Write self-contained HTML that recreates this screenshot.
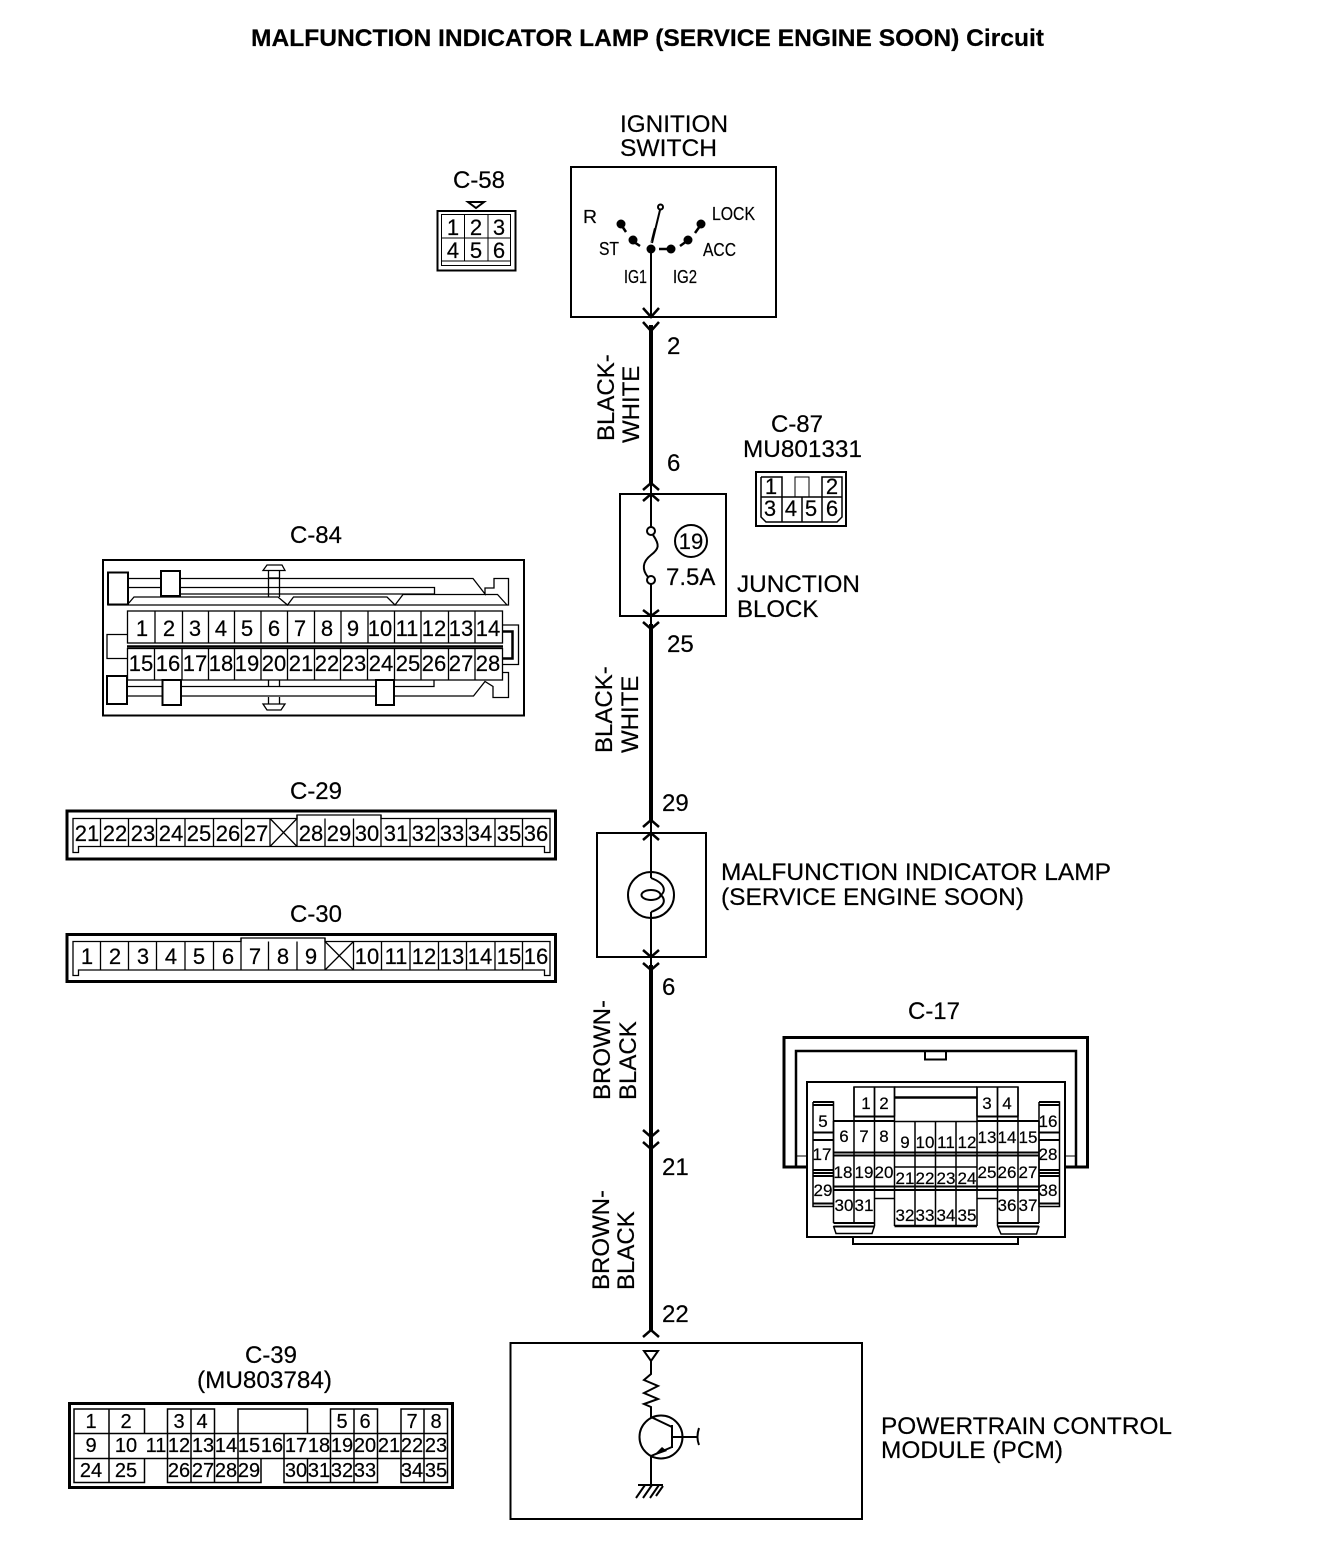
<!DOCTYPE html>
<html><head><meta charset="utf-8"><title>MIL Circuit</title>
<style>
html,body{margin:0;padding:0;background:#fff}
svg{display:block}
text{font-family:"Liberation Sans",sans-serif;fill:#000;stroke:#000;stroke-width:.2}
.l{font-size:24px}
.c{font-size:24px;text-anchor:middle}
.d{font-size:22px;text-anchor:middle}
.e{font-size:20px;text-anchor:middle}
.f{font-size:17px;text-anchor:middle}
.s{font-size:18px}
.n{fill:none;stroke:#000;stroke-width:2}
.t{fill:none;stroke:#000;stroke-width:1}
.h{fill:none;stroke:#000;stroke-width:3}
.w{fill:none;stroke:#000;stroke-width:4}
.v{fill:none;stroke:#000;stroke-width:2.500}
</style></head>
<body>
<svg xmlns="http://www.w3.org/2000/svg" width="1328" height="1554" viewBox="0 0 1328 1554">
<rect width="1328" height="1554" fill="#fff"/>
<text x="251" y="46" font-size="24" font-weight="bold" textLength="793" lengthAdjust="spacingAndGlyphs">MALFUNCTION INDICATOR LAMP (SERVICE ENGINE SOON) Circuit</text>

<!-- Ignition switch -->
<text class="l" x="620" y="132" textLength="108" lengthAdjust="spacingAndGlyphs">IGNITION</text>
<text class="l" x="620" y="156" textLength="97" lengthAdjust="spacingAndGlyphs">SWITCH</text>
<rect class="n" x="571" y="167" width="205" height="150"/>
<path class="n" d="M651 249V317"/>
<circle class="n" cx="660.500" cy="207" r="2.500"/>
<path class="n" d="M660 210L652 243"/>
<path d="M650 244L654 228L656 229Z"/>
<circle cx="651" cy="249" r="4.500"/>
<circle cx="621" cy="224" r="4.500"/><path class="v" d="M622 226L626 232"/>
<circle cx="633" cy="240" r="4.500"/><path class="v" d="M634 242L640 246"/>
<circle cx="671" cy="249" r="4.500"/><path class="v" d="M671 249H659"/>
<circle cx="688" cy="240" r="4.500"/><path class="v" d="M687 241L680 246"/>
<circle cx="701" cy="224" r="4.500"/><path class="v" d="M700 226L695 233"/>
<text class="s" x="583" y="223" textLength="14" lengthAdjust="spacingAndGlyphs">R</text>
<text class="s" x="712" y="220" textLength="43" lengthAdjust="spacingAndGlyphs">LOCK</text>
<text class="s" x="599" y="255" textLength="20" lengthAdjust="spacingAndGlyphs">ST</text>
<text class="s" x="703" y="256" textLength="33" lengthAdjust="spacingAndGlyphs">ACC</text>
<text class="s" x="624" y="283" textLength="23" lengthAdjust="spacingAndGlyphs">IG1</text>
<text class="s" x="673" y="283" textLength="24" lengthAdjust="spacingAndGlyphs">IG2</text>

<!-- C-58 -->
<text class="c" x="479" y="188">C-58</text>
<path class="n" d="M468 202H484L476 208Z"/>
<rect class="n" x="437.500" y="211" width="78" height="59.500"/>
<rect class="t" x="441.500" y="214.500" width="69" height="51"/>
<path class="t" d="M441 261H511M441 238H511M464.500 214V261M488 214V261"/>
<text class="d" x="453" y="235">1</text><text class="d" x="476" y="235">2</text><text class="d" x="499" y="235">3</text>
<text class="d" x="453" y="258">4</text><text class="d" x="476" y="258">5</text><text class="d" x="499" y="258">6</text>

<!-- Main wire -->
<path class="w" d="M651 325V484M651 624V821M651 965V1331"/>
<path class="v" d="M643 308L651 317L659 308M643 322L651 331L659 322"/>
<path class="v" d="M643 490L651 483L659 490M643 501L651 494L659 501"/>
<path class="v" d="M643 610L651 616L659 610M643 622L651 629L659 622"/>
<path class="v" d="M643 827L651 820L659 827M643 840L651 833L659 840"/>
<path class="v" d="M643 950L651 957L659 950M643 963L651 970L659 963"/>
<path class="v" d="M643 1130L651 1137L659 1130M643 1142L651 1149L659 1142"/>
<path class="v" d="M643 1337L651 1330L659 1337"/>

<!-- wire numbers -->
<text class="l" x="667" y="354">2</text>
<text class="l" x="667" y="471">6</text>
<text class="l" x="667" y="652">25</text>
<text class="l" x="662" y="811">29</text>
<text class="l" x="662" y="995">6</text>
<text class="l" x="662" y="1175">21</text>
<text class="l" x="662" y="1322">22</text>

<!-- wire colours -->
<text class="l" transform="translate(614 441) rotate(-90)">BLACK-</text>
<text class="l" transform="translate(639 443) rotate(-90)">WHITE</text>
<text class="l" transform="translate(612 753) rotate(-90)">BLACK-</text>
<text class="l" transform="translate(638 753) rotate(-90)">WHITE</text>
<text class="l" transform="translate(610 1100) rotate(-90)">BROWN-</text>
<text class="l" transform="translate(636 1100) rotate(-90)">BLACK</text>
<text class="l" transform="translate(609 1290) rotate(-90)">BROWN-</text>
<text class="l" transform="translate(634 1290) rotate(-90)">BLACK</text>

<!-- Junction block -->
<rect class="n" x="620" y="494" width="106" height="122"/>
<path class="n" d="M651 484V527M651 584V624"/>
<circle class="n" cx="651" cy="531" r="4"/>
<circle class="n" cx="651" cy="580" r="4"/>
<path class="n" d="M653 535C660 545 659 549 651 555C642 562 642 570 648 577"/>
<circle class="n" cx="691" cy="541" r="16"/>
<text class="d" x="691" y="549">19</text>
<text class="l" x="666" y="585">7.5A</text>
<text class="l" x="737" y="592" textLength="123" lengthAdjust="spacingAndGlyphs">JUNCTION</text>
<text class="l" x="737" y="617">BLOCK</text>

<!-- C-87 -->
<text class="c" x="797" y="432">C-87</text>
<text class="c" x="802.500" y="457" textLength="119" lengthAdjust="spacingAndGlyphs">MU801331</text>
<rect class="n" x="756" y="472" width="90" height="54"/>
<g fill="none" stroke="#000" stroke-width="1.500">
<path d="M761 477H782V497M822 497V477H842V497M761 477V517L766 522H837L842 517V497H761M782 497V522M802 497V522M822 497V522"/>
</g>
<path class="t" d="M795 497V477H809V497"/>
<text class="d" x="771" y="494">1</text><text class="d" x="832" y="494">2</text>
<text class="d" x="770" y="516">3</text><text class="d" x="791" y="516">4</text><text class="d" x="811" y="516">5</text><text class="d" x="832" y="516">6</text>

<!-- C-84 -->
<text class="c" x="316" y="543">C-84</text>
<rect class="n" x="103" y="560" width="421" height="155.500"/>
<g fill="none" stroke="#000" stroke-width="1.300">
<rect x="108" y="572.500" width="20" height="32" fill="#fff" stroke-width="2"/>
<rect x="161" y="571" width="19" height="25" fill="#fff" stroke-width="2"/>
<path d="M128 578.500H161M181 578.500H473L485 594V588H494V578.500H508.500V605H108"/>
<path d="M128 587.500H161M181 587.500H434.500V594H180"/>
<path d="M128 604L134 597H278L287.500 605L293.500 597H387L395 605L403 594.500H497.500L507 605"/>
<path d="M263 570.500L267 565H282L285 570.500ZM268.500 570.500V597M279.500 570.500V597"/>
<path d="M268.500 578H279.500"/>
<path d="M127 634.500H107V658.500H127"/>
<rect x="127.500" y="611" width="375" height="32" fill="#fff"/>
<rect x="127.500" y="648.500" width="375" height="31.500" fill="#fff"/>
<path stroke-width="2.500" d="M127 646.500H503"/>
<path d="M155 611V643M182.500 611V643M208.500 611V643M234.500 611V643M261 611V643M287.500 611V643M314.500 611V643M341 611V643M368 611V643M394.500 611V643M421 611V643M448.500 611V643M475 611V643"/>
<path d="M154.500 648V680M182 648V680M208.500 648V680M234.500 648V680M261 648V680M287.500 648V680M314.500 648V680M340.500 648V680M367.500 648V680M394.500 648V680M421 648V680M448.500 648V680M475 648V680"/>
<path d="M503 625H518.500V664.500H503"/>
<path stroke-width="2.500" d="M503 631.500H512.500V658.500H503"/>
<rect x="107" y="676" width="20" height="28" fill="#fff" stroke-width="2"/>
<rect x="162.500" y="680" width="18.500" height="25" fill="#fff" stroke-width="2"/>
<rect x="376" y="680" width="18" height="25" fill="#fff" stroke-width="2"/>
<path d="M127 686.500H162M181 686.500H376M394 686.500H434V680"/>
<path d="M127 696H162M181 696H376M394 696H473.500L485 681.500L493 686.500V697.500H508.500V672.500H503"/>
<path d="M268.500 680V686M279.500 680V686M268.500 697V704M279.500 697V704M263 704H285L281 710H267Z"/>
</g>
<text class="d" x="142" y="636">1</text><text class="d" x="169" y="636">2</text><text class="d" x="195" y="636">3</text><text class="d" x="221" y="636">4</text><text class="d" x="247" y="636">5</text><text class="d" x="274" y="636">6</text><text class="d" x="300" y="636">7</text><text class="d" x="327" y="636">8</text><text class="d" x="353" y="636">9</text><text class="d" x="380" y="636">10</text><text class="d" x="407" y="636">11</text><text class="d" x="434" y="636">12</text><text class="d" x="461" y="636">13</text><text class="d" x="488" y="636">14</text>
<text class="d" x="141" y="671">15</text><text class="d" x="168" y="671">16</text><text class="d" x="195" y="671">17</text><text class="d" x="221" y="671">18</text><text class="d" x="247" y="671">19</text><text class="d" x="274" y="671">20</text><text class="d" x="301" y="671">21</text><text class="d" x="327" y="671">22</text><text class="d" x="354" y="671">23</text><text class="d" x="381" y="671">24</text><text class="d" x="408" y="671">25</text><text class="d" x="434" y="671">26</text><text class="d" x="461" y="671">27</text><text class="d" x="488" y="671">28</text>

<!-- C-29 -->
<text class="c" x="316" y="799">C-29</text>
<rect class="h" x="67" y="811" width="488.500" height="48"/>
<g fill="none" stroke="#000" stroke-width="1.300">
<path d="M73 818.500V852.500H78.500V846.500H544.500V852.500H550V818.500H381V815H297V818.500H73Z"/>
<path d="M100.500 818.500V846.500M128.500 818.500V846.500M156.500 818.500V846.500M185 818.500V846.500M213.500 818.500V846.500M241.500 818.500V846.500M270 818.500V846.500M297 815V846.500M325 818.500V846.500M353.500 818.500V846.500M381 815V846.500M410 818.500V846.500M438.500 818.500V846.500M466.500 818.500V846.500M495 818.500V846.500M522.500 818.500V846.500"/>
<path d="M270 818.500L297 846.500M297 818.500L270 846.500"/>
</g>
<text class="d" x="87" y="841">21</text><text class="d" x="115" y="841">22</text><text class="d" x="143" y="841">23</text><text class="d" x="171" y="841">24</text><text class="d" x="199" y="841">25</text><text class="d" x="228" y="841">26</text><text class="d" x="256" y="841">27</text><text class="d" x="311" y="841">28</text><text class="d" x="339" y="841">29</text><text class="d" x="367" y="841">30</text><text class="d" x="396" y="841">31</text><text class="d" x="424" y="841">32</text><text class="d" x="452" y="841">33</text><text class="d" x="480" y="841">34</text><text class="d" x="509" y="841">35</text><text class="d" x="536" y="841">36</text>

<!-- C-30 -->
<text class="c" x="316" y="922">C-30</text>
<rect class="h" x="67" y="934.500" width="488.500" height="47"/>
<g fill="none" stroke="#000" stroke-width="1.300">
<path d="M73 941.500V975.500H78.500V970H544.500V975.500H550V941.500H325V938H241V941.500H73Z"/>
<path d="M100.500 941.500V970M128.500 941.500V970M156.500 941.500V970M185 941.500V970M213.500 941.500V970M241 938V970M268.500 941.500V970M297 941.500V970M325 938V970M353.500 941.500V970M381.500 941.500V970M410 941.500V970M438.500 941.500V970M466.500 941.500V970M495 941.500V970M522.500 941.500V970"/>
<path d="M325 941.500L353.500 970M353.500 941.500L325 970"/>
</g>
<text class="d" x="87" y="964">1</text><text class="d" x="115" y="964">2</text><text class="d" x="143" y="964">3</text><text class="d" x="171" y="964">4</text><text class="d" x="199" y="964">5</text><text class="d" x="228" y="964">6</text><text class="d" x="255" y="964">7</text><text class="d" x="283" y="964">8</text><text class="d" x="311" y="964">9</text><text class="d" x="367" y="964">10</text><text class="d" x="396" y="964">11</text><text class="d" x="424" y="964">12</text><text class="d" x="452" y="964">13</text><text class="d" x="480" y="964">14</text><text class="d" x="509" y="964">15</text><text class="d" x="536" y="964">16</text>

<!-- Lamp -->
<rect class="n" x="597" y="833" width="109" height="124"/>
<path class="n" d="M651 821V878M651 912V965"/>
<circle class="n" cx="651" cy="895" r="23"/>
<path class="n" d="M651 878C667 884 665 892 661 895C665 899 667 906 651 912"/>
<ellipse class="n" cx="651" cy="895" rx="9.500" ry="5"/>
<text class="l" x="721" y="880" textLength="390" lengthAdjust="spacingAndGlyphs">MALFUNCTION INDICATOR LAMP</text>
<text class="l" x="721" y="905" textLength="303" lengthAdjust="spacingAndGlyphs">(SERVICE ENGINE SOON)</text>

<!-- C-17 -->
<text class="c" x="934" y="1019">C-17</text>
<path class="h" d="M806 1167H784V1037.500H1087.500V1167H1065"/>
<path class="v" d="M796 1167V1051H1076V1167"/>
<path class="n" d="M925 1051V1059.500H946V1051"/>
<path class="t" d="M796 1156H807M1065 1156H1076"/>
<path class="n" d="M807 1082H1065V1237H807Z"/>
<path class="n" d="M853 1237V1244H1018V1237"/>
<g fill="none" stroke="#000" stroke-width="1.500">
<path d="M813 1102V1206.500H833.500M813 1102H833.500V1206.500"/>
<path d="M1039 1102V1206.500H1059.500V1102H1039"/>
<path stroke-width="2" d="M813 1102H833.500M813 1105H833.500M1039 1102H1059.500M1039 1105H1059.500M813 1132.500H833.500M813 1140H833.500M1039 1132.500H1059.500M1039 1140H1059.500M813 1170H833.500M813 1173H833.500M813 1176H833.500M1039 1170H1059.500M1039 1173H1059.500M1039 1176H1059.500M813 1203.500H833.500M1039 1203.500H1059.500"/>
<path d="M854 1116.500V1087H894.500V1116.500M874.500 1087V1116.500M977 1116.500V1087H1018V1116.500M997.500 1087V1116.500"/>
<path d="M894.500 1087H977"/>
<path stroke-width="2.500" d="M894.500 1097.500H977"/>
<path stroke-width="2" d="M854 1116.500H894.500M977 1116.500H1018M833.500 1121H894.500M977 1121H1039"/>
<path d="M894.500 1121.500H977"/>
<path d="M833.500 1121V1223M854 1087V1223M874.500 1087V1226M894.500 1087V1226M915 1121.500V1226M935.500 1121.500V1226M956 1121.500V1226M977 1087V1226M997.500 1087V1226M1018 1087V1223M1039 1121V1223"/>
<path stroke-width="2" d="M833.500 1152.500H1039"/>
<path stroke-width="2" d="M833.500 1155.500H1039"/>
<path d="M894.500 1167H977"/>
<path stroke-width="2" d="M833.500 1186.500H1039M833.500 1190H1039"/>
<path d="M874.500 1198.500H894.500M977 1198.500H997.500"/>
<path stroke-width="2.500" d="M894.500 1226H977"/>
<path stroke-width="2" d="M833.500 1223H874.500M833.500 1226.500H874.500M997.500 1223H1039M997.500 1226.500H1039"/>
<path d="M833.500 1226L836 1233.500H872L874.500 1226M997.500 1226L1001 1234H1036.500L1039 1226"/>
</g>
<text class="f" x="866" y="1109">1</text><text class="f" x="884" y="1109">2</text><text class="f" x="987" y="1109">3</text><text class="f" x="1007" y="1109">4</text>
<text class="f" x="823" y="1127">5</text><text class="f" x="1048" y="1127">16</text>
<text class="f" x="844" y="1142">6</text><text class="f" x="864" y="1142">7</text><text class="f" x="884" y="1142">8</text>
<text class="f" x="905" y="1148">9</text><text class="f" x="925" y="1148">10</text><text class="f" x="946" y="1148">11</text><text class="f" x="967" y="1148">12</text>
<text class="f" x="987" y="1143">13</text><text class="f" x="1007" y="1143">14</text><text class="f" x="1028" y="1143">15</text>
<text class="f" x="822" y="1160">17</text><text class="f" x="1048" y="1160">28</text>
<text class="f" x="843" y="1178">18</text><text class="f" x="864" y="1178">19</text><text class="f" x="884" y="1178">20</text>
<text class="f" x="905" y="1184">21</text><text class="f" x="925" y="1184">22</text><text class="f" x="946" y="1184">23</text><text class="f" x="967" y="1184">24</text>
<text class="f" x="987" y="1178">25</text><text class="f" x="1007" y="1178">26</text><text class="f" x="1028" y="1178">27</text>
<text class="f" x="823" y="1196">29</text><text class="f" x="1048" y="1196">38</text>
<text class="f" x="844" y="1211">30</text><text class="f" x="864" y="1211">31</text><text class="f" x="1007" y="1211">36</text><text class="f" x="1028" y="1211">37</text>
<text class="f" x="905" y="1221">32</text><text class="f" x="925" y="1221">33</text><text class="f" x="946" y="1221">34</text><text class="f" x="967" y="1221">35</text>

<!-- C-39 -->
<text class="c" x="271" y="1363">C-39</text>
<text class="c" x="264.500" y="1388" textLength="135" lengthAdjust="spacingAndGlyphs">(MU803784)</text>
<rect class="h" x="69.500" y="1403.500" width="383" height="84"/>
<g fill="none" stroke="#000" stroke-width="1.500">
<path d="M74 1433.500V1409H144.500V1433.500M109 1409V1433.500M167.500 1433.500V1409H214.500V1433.500M191 1409V1433.500M238 1433.500V1409H307.500V1433.500M330.500 1433.500V1409H377.500V1433.500M354 1409V1433.500M401 1433.500V1409H447.500V1433.500M424 1409V1433.500"/>
<path d="M74 1433.500H447.500M74 1458.500H447.500M74 1433.500V1458.500M447.500 1433.500V1458.500"/>
<path d="M109 1433.500V1458.500M167.500 1433.500V1458.500M191 1433.500V1458.500M214.500 1433.500V1458.500M238 1433.500V1458.500M284 1433.500V1458.500M330.500 1433.500V1458.500M354 1433.500V1458.500M377.500 1433.500V1458.500M401 1433.500V1458.500M424 1433.500V1458.500"/>
<path d="M74 1458.500V1482.500H144.500V1458.500M109 1458.500V1482.500M167.500 1458.500V1482.500H261V1458.500M191 1458.500V1482.500M214.500 1458.500V1482.500M238 1458.500V1482.500M284 1458.500V1482.500H377.500V1458.500M307.500 1458.500V1482.500M330.500 1458.500V1482.500M354 1458.500V1482.500M401 1458.500V1482.500H447.500V1458.500M424 1458.500V1482.500"/>
</g>
<text class="e" x="91" y="1428">1</text><text class="e" x="126" y="1428">2</text><text class="e" x="179" y="1428">3</text><text class="e" x="202" y="1428">4</text><text class="e" x="342" y="1428">5</text><text class="e" x="365" y="1428">6</text><text class="e" x="412" y="1428">7</text><text class="e" x="436" y="1428">8</text>
<text class="e" x="91" y="1452">9</text><text class="e" x="126" y="1452">10</text><text class="e" x="156" y="1452">11</text><text class="e" x="179" y="1452">12</text><text class="e" x="203" y="1452">13</text><text class="e" x="226" y="1452">14</text><text class="e" x="249" y="1452">15</text><text class="e" x="272" y="1452">16</text><text class="e" x="296" y="1452">17</text><text class="e" x="319" y="1452">18</text><text class="e" x="342" y="1452">19</text><text class="e" x="365" y="1452">20</text><text class="e" x="389" y="1452">21</text><text class="e" x="412" y="1452">22</text><text class="e" x="436" y="1452">23</text>
<text class="e" x="91" y="1477">24</text><text class="e" x="126" y="1477">25</text><text class="e" x="179" y="1477">26</text><text class="e" x="203" y="1477">27</text><text class="e" x="226" y="1477">28</text><text class="e" x="249" y="1477">29</text><text class="e" x="296" y="1477">30</text><text class="e" x="319" y="1477">31</text><text class="e" x="342" y="1477">32</text><text class="e" x="365" y="1477">33</text><text class="e" x="412" y="1477">34</text><text class="e" x="436" y="1477">35</text>

<!-- PCM -->
<rect class="n" x="510.500" y="1343" width="351.500" height="176"/>
<path class="n" d="M644 1351H658L651 1361Z"/>
<path class="n" d="M651 1361V1374L644 1380L658 1386L644 1393L658 1399L644 1404L651 1407V1417L672 1427M672 1425V1448M672 1447L651 1456V1484M672 1437H698"/>
<path class="n" d="M699 1428C697 1434 697 1440 699 1445"/>
<circle class="n" cx="661" cy="1437" r="21.500"/>
<path d="M653 1456L662 1447L667 1451Z"/>
<path class="n" d="M638 1485H663M645 1485L636 1498M652 1485L643 1498M659 1485L650 1498M663 1486L656 1496"/>
<text class="l" x="881" y="1434" textLength="291" lengthAdjust="spacingAndGlyphs">POWERTRAIN CONTROL</text>
<text class="l" x="881" y="1458" textLength="182" lengthAdjust="spacingAndGlyphs">MODULE (PCM)</text>
</svg>
</body></html>
